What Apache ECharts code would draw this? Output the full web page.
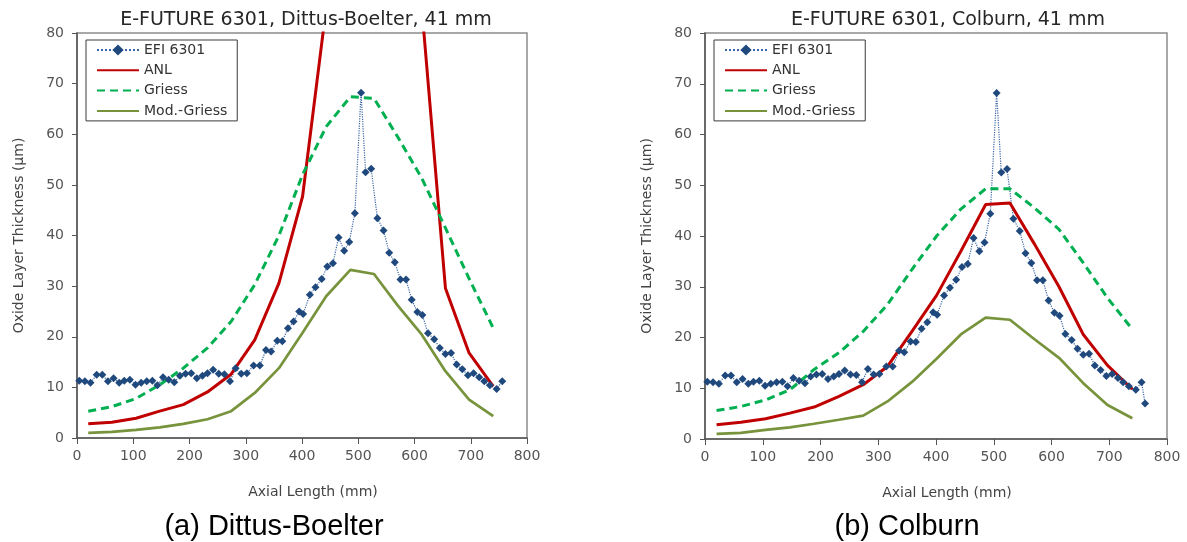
<!DOCTYPE html>
<html>
<head>
<meta charset="utf-8">
<script src="https://cdn.jsdelivr.net/npm/echarts@6/dist/echarts.min.js"></script>
<style>
  html, body { margin: 0; padding: 0; background: #fff; }
  #chart { width: 1187px; height: 542px; }
</style>
</head>
<body>
<div id="chart"></div>
<script>
// Measured oxide thickness, EFI 6301 rod (axial position mm, thickness um)
const efiX = [4, 14, 24, 35, 45, 55, 65, 75, 84, 94, 104, 114, 124, 134, 143, 153, 163, 173, 183, 193,
  203, 213, 223, 232, 242, 252, 262, 272, 282, 292, 302, 314, 325, 336, 345, 356, 365, 375, 385, 395,
  402, 414, 424, 435, 445, 455, 465, 475, 484, 494, 505, 513, 523, 534, 545, 555, 565, 575, 585, 595,
  605, 614, 624, 635, 645, 655, 665, 675, 685, 695, 705, 715, 724, 734, 746, 756];
const efiY = [11.3, 11.2, 10.9, 12.5, 12.5, 11.2, 11.8, 10.9, 11.3, 11.5, 10.5, 10.9, 11.2, 11.3, 10.4, 12.0, 11.5, 11.0, 12.3, 12.7,
  12.8, 11.8, 12.3, 12.8, 13.5, 12.7, 12.6, 11.2, 13.8, 12.7, 12.8, 14.3, 14.3, 17.4, 17.1, 19.2, 19.1, 21.7, 23.0, 25.0,
  24.5, 28.3, 29.8, 31.4, 33.9, 34.5, 39.6, 37.0, 38.7, 44.4, 68.2, 52.5, 53.2, 43.4, 41.0, 36.6, 34.7, 31.3, 31.3, 27.3,
  24.9, 24.3, 20.7, 19.5, 17.8, 16.6, 16.8, 14.5, 13.6, 12.4, 12.8, 12.0, 11.2, 10.4, 9.7, 11.2];
// last measurement point shown only on the Colburn panel
const efiTailX = [762];
const efiTailY = [7.0];

// Axial nodes of the model calculations (mm)
const modelX = [20, 62, 105, 147, 189, 232, 274, 316, 359, 401, 443, 486, 528, 570, 613, 655, 697, 740];

// Dittus-Boelter heat transfer correlation
const anlDB    = [2.8, 3.1, 3.9, 5.3, 6.6, 9.1, 12.6, 19.4, 30.6, 47.7, 85, 110, 112, 100, 85, 29.6, 16.8, 10.2];
const griessDB = [5.3, 6.2, 7.8, 10.5, 13.8, 17.8, 23.0, 30.3, 40.0, 52.0, 61.5, 67.4, 67.1, 59.5, 51.3, 41.5, 31.5, 21.7];
const modDB    = [1.0, 1.2, 1.6, 2.1, 2.8, 3.7, 5.3, 8.9, 13.8, 20.8, 28.0, 33.2, 32.4, 26.2, 20.4, 13.2, 7.6, 4.3];

// Colburn heat transfer correlation
const anlCB    = [2.8, 3.3, 4.0, 5.1, 6.3, 8.4, 10.7, 14.3, 21.3, 28.3, 37.0, 46.2, 46.5, 38.5, 30.0, 20.6, 14.5, 9.8];
const griessCB = [5.6, 6.4, 7.7, 9.7, 13.7, 17.0, 21.2, 26.5, 33.5, 40.0, 45.3, 49.3, 49.3, 45.6, 41.3, 34.7, 27.8, 21.6];
const modCB    = [1.0, 1.2, 1.8, 2.3, 3.0, 3.8, 4.6, 7.4, 11.3, 15.8, 20.6, 23.9, 23.5, 19.7, 16.0, 11.0, 6.7, 4.1];

const seriesNames = ['EFI 6301', 'ANL', 'Griess', 'Mod.-Griess'];
const panelTitles = ['E-FUTURE 6301, Dittus-Boelter, 41 mm', 'E-FUTURE 6301, Colburn, 41 mm'];
const captions = ['(a) Dittus-Boelter', '(b) Colburn'];
const xAxisTitle = 'Axial Length (mm)';
const yAxisTitle = 'Oxide Layer Thickness (\u03bcm)';

const zip = (xs, ys) => xs.map((x, i) => [x, ys[i]]);

const FONT = 'DejaVu Sans';
const AXIS_GREY = '#555555';

const grids = [
  { left: 77, top: 33, width: 450, height: 405 },
  { left: 705, top: 33, width: 462, height: 406 }
];

function xAxisFor(idx) {
  return {
    gridIndex: idx, type: 'value', min: 0, max: 800, interval: 100,
    name: xAxisTitle, nameLocation: 'middle', nameGap: 47,
    nameTextStyle: { fontFamily: FONT, fontSize: 14, color: '#444', padding: [0, 0, 0, 22] },
    axisLine: { show: true, onZero: false, lineStyle: { color: AXIS_GREY, width: 1.5 } },
    axisTick: { show: true, inside: false, length: 6, lineStyle: { color: AXIS_GREY, width: 1 } },
    axisLabel: { margin: 11, fontFamily: FONT, fontSize: 14, color: '#555' },
    splitLine: { show: false }
  };
}
function yAxisFor(idx) {
  return {
    gridIndex: idx, type: 'value', min: 0, max: 80, interval: 10,
    name: yAxisTitle, nameLocation: 'middle', nameGap: 51, nameRotate: 90,
    nameTextStyle: { fontFamily: FONT, fontSize: 14, color: '#444' },
    axisLine: { show: true, onZero: false, lineStyle: { color: AXIS_GREY, width: 1.5 } },
    axisTick: { show: true, inside: false, length: 5, lineStyle: { color: AXIS_GREY, width: 1 } },
    axisLabel: { margin: 13, fontFamily: FONT, fontSize: 14, color: '#555' },
    splitLine: { show: false }
  };
}

function panelSeries(idx, efiData, anl, griess, mod) {
  return [
    {
      name: seriesNames[0], type: 'line', xAxisIndex: idx, yAxisIndex: idx,
      data: efiData, symbol: 'diamond', symbolSize: 8, showSymbol: true,
      itemStyle: { color: '#1F497D' },
      lineStyle: { color: '#3C66A3', width: 1.2, type: 'dotted' },
      clip: true
    },
    {
      name: seriesNames[1], type: 'line', xAxisIndex: idx, yAxisIndex: idx,
      data: zip(modelX, anl), symbol: 'none',
      itemStyle: { color: '#C00000' },
      lineStyle: { color: '#C00000', width: 3 },
      clip: true
    },
    {
      name: seriesNames[2], type: 'line', xAxisIndex: idx, yAxisIndex: idx,
      data: zip(modelX, griess), symbol: 'none',
      itemStyle: { color: '#00B050' },
      lineStyle: { color: '#00B050', width: 3, type: [8, 5] },
      clip: true
    },
    {
      name: seriesNames[3], type: 'line', xAxisIndex: idx, yAxisIndex: idx,
      data: zip(modelX, mod), symbol: 'none',
      itemStyle: { color: '#77933C' },
      lineStyle: { color: '#77933C', width: 2.7 },
      clip: true
    }
  ];
}

// line-only legend keys for the model curves (no marker)
const legendItems = seriesNames.map((n, i) => i === 0 ? { name: n } : { name: n, itemStyle: { opacity: 0 } });

function legendAt(left) {
  return {
    data: legendItems, orient: 'vertical', left: left, top: 40,
    itemWidth: 42, itemHeight: 14, itemGap: 6.3,
    padding: [3, 10, 3, 10],
    borderColor: '#3a3a3a', borderWidth: 1, backgroundColor: '#fff',
    selectedMode: false,
    textStyle: { fontFamily: FONT, fontSize: 14, color: '#333' }
  };
}

function centeredText(x, y, text, size, family, color) {
  return {
    type: 'text', x: x, y: y,
    style: {
      text: text, fontSize: size, fontFamily: family, fill: color,
      align: 'center', verticalAlign: 'middle',
      textAlign: 'center', textVerticalAlign: 'middle'
    }
  };
}

const chart = echarts.init(document.getElementById('chart'), null, { renderer: 'canvas' });
chart.setOption({
  animation: false,
  backgroundColor: '#ffffff',
  grid: grids.map(g => Object.assign({ show: true, borderColor: '#8c8c8c', borderWidth: 1.5, containLabel: false }, g)),
  xAxis: [xAxisFor(0), xAxisFor(1)],
  yAxis: [yAxisFor(0), yAxisFor(1)],
  legend: [legendAt(86), legendAt(714)],
  series: [].concat(
    panelSeries(0, zip(efiX, efiY), anlDB, griessDB, modDB),
    panelSeries(1, zip(efiX.concat(efiTailX), efiY.concat(efiTailY)), anlCB, griessCB, modCB)
  ),
  graphic: [
    centeredText(306, 20, panelTitles[0], 19, FONT, '#262626'),
    centeredText(948, 20, panelTitles[1], 19, FONT, '#262626'),
    centeredText(274, 527, captions[0], 29, 'Liberation Sans', '#000'),
    centeredText(907, 527, captions[1], 29, 'Liberation Sans', '#000')
  ]
});
</script>
</body>
</html>
